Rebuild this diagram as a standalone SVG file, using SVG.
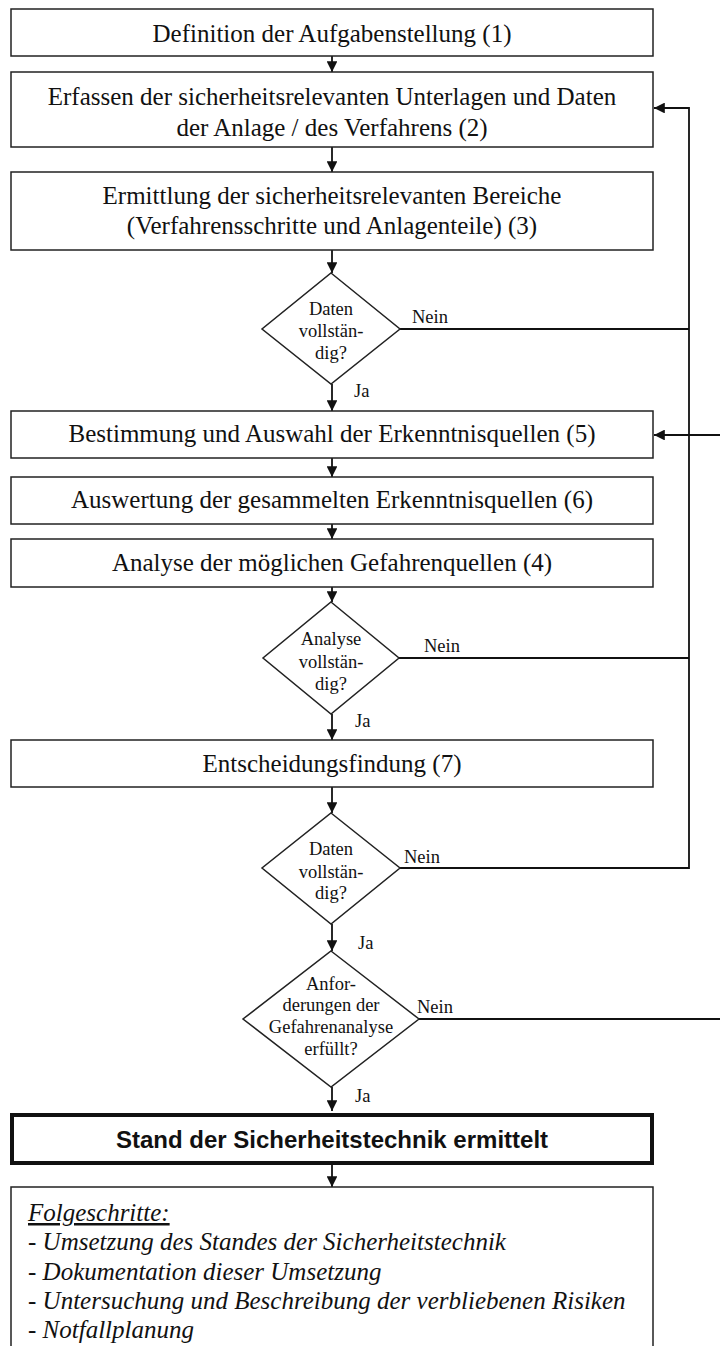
<svg xmlns="http://www.w3.org/2000/svg" width="720" height="1346" viewBox="0 0 720 1346">
<style>
.box{fill:#fff;stroke:#222;stroke-width:1.5}
.bold{fill:#fff;stroke:#111;stroke-width:4}
.t{font-family:"Liberation Serif","Times New Roman",serif;font-size:25px;fill:#111;text-anchor:middle}
.d{font-family:"Liberation Serif","Times New Roman",serif;font-size:18.5px;fill:#111;text-anchor:middle}
.l{font-family:"Liberation Serif","Times New Roman",serif;font-size:18.5px;fill:#111}
.b{font-family:"Liberation Sans",Arial,sans-serif;font-size:24px;font-weight:bold;fill:#111;text-anchor:middle}
.i{font-family:"Liberation Serif","Times New Roman",serif;font-size:25px;font-style:italic;fill:#111}
.c{fill:none;stroke:#111;stroke-width:1.8}
</style>
<defs>
<marker id="ah" viewBox="0 0 10 10" refX="10" refY="5" markerWidth="6" markerHeight="6" orient="auto" markerUnits="strokeWidth">
<path d="M0,0 L10,5 L0,10 z" fill="#111"/>
</marker>
</defs>
<g id="connectors">
<line class="c" x1="332" y1="56" x2="332" y2="72" marker-end="url(#ah)"/>
<line class="c" x1="332" y1="147" x2="332" y2="172" marker-end="url(#ah)"/>
<line class="c" x1="332" y1="250" x2="332" y2="273" marker-end="url(#ah)"/>
<line class="c" x1="332" y1="384" x2="332" y2="411" marker-end="url(#ah)"/>
<line class="c" x1="332" y1="458" x2="332" y2="477" marker-end="url(#ah)"/>
<line class="c" x1="332" y1="524" x2="332" y2="539" marker-end="url(#ah)"/>
<line class="c" x1="332" y1="587" x2="332" y2="602" marker-end="url(#ah)"/>
<line class="c" x1="332" y1="714" x2="332" y2="740" marker-end="url(#ah)"/>
<line class="c" x1="332" y1="787" x2="332" y2="813" marker-end="url(#ah)"/>
<line class="c" x1="332" y1="924" x2="332" y2="951" marker-end="url(#ah)"/>
<line class="c" x1="332" y1="1087" x2="332" y2="1111" marker-end="url(#ah)"/>
<line class="c" x1="332" y1="1165" x2="332" y2="1187" marker-end="url(#ah)"/>
<line class="c" x1="400" y1="329" x2="689" y2="329"/>
<line class="c" x1="399" y1="658" x2="689" y2="658"/>
<path class="c" d="M400,868 H689 V108 H654" marker-end="url(#ah)"/>
<path class="c" d="M419,1019 H723 V435 H654" marker-end="url(#ah)"/>
<text class="l" x="412" y="323">Nein</text>
<text class="l" x="354" y="397">Ja</text>
<text class="l" x="424" y="652">Nein</text>
<text class="l" x="355" y="727">Ja</text>
<text class="l" x="404" y="863">Nein</text>
<text class="l" x="358" y="949">Ja</text>
<text class="l" x="417" y="1013">Nein</text>
<text class="l" x="355" y="1102">Ja</text>
</g>
<g id="n1"><rect class="box" x="11" y="9" width="642" height="47"/><text class="t" x="332" y="42">Definition der Aufgabenstellung (1)</text></g>
<g id="n2"><rect class="box" x="11" y="72" width="642" height="75"/><text class="t" x="332" y="105">Erfassen der sicherheitsrelevanten Unterlagen und Daten</text><text class="t" x="332" y="136">der Anlage / des Verfahrens (2)</text></g>
<g id="n3"><rect class="box" x="11" y="172" width="642" height="78"/><text class="t" x="332" y="204">Ermittlung der sicherheitsrelevanten Bereiche</text><text class="t" x="332" y="234">(Verfahrensschritte und Anlagenteile) (3)</text></g>
<g id="d1"><polygon class="box" points="331,273 400,329 331,384 262,329"/><text class="d" x="331" y="315">Daten</text><text class="d" x="331" y="337">vollstän-</text><text class="d" x="331" y="359">dig?</text></g>
<g id="n5"><rect class="box" x="11" y="411" width="642" height="47"/><text class="t" x="332" y="442">Bestimmung und Auswahl der Erkenntnisquellen (5)</text></g>
<g id="n6"><rect class="box" x="11" y="477" width="642" height="47"/><text class="t" x="332" y="508">Auswertung der gesammelten Erkenntnisquellen (6)</text></g>
<g id="n4"><rect class="box" x="11" y="539" width="642" height="48"/><text class="t" x="332" y="571">Analyse der möglichen Gefahrenquellen (4)</text></g>
<g id="d2"><polygon class="box" points="331,602 399,658 331,714 263,658"/><text class="d" x="331" y="645">Analyse</text><text class="d" x="331" y="668">vollstän-</text><text class="d" x="331" y="690">dig?</text></g>
<g id="n7"><rect class="box" x="11" y="740" width="642" height="47"/><text class="t" x="332" y="772">Entscheidungsfindung (7)</text></g>
<g id="d3"><polygon class="box" points="331,813 400,868 331,924 262,868"/><text class="d" x="331" y="855">Daten</text><text class="d" x="331" y="878">vollstän-</text><text class="d" x="331" y="899">dig?</text></g>
<g id="d4"><polygon class="box" points="331,951 419,1019 331,1087 243,1019"/><text class="d" x="331" y="990">Anfor-</text><text class="d" x="331" y="1011">derungen der</text><text class="d" x="331" y="1033">Gefahrenanalyse</text><text class="d" x="331" y="1055">erfüllt?</text></g>
<g id="n8"><rect class="bold" x="12" y="1115" width="640" height="48"/><text class="b" x="332" y="1148">Stand der Sicherheitstechnik ermittelt</text></g>
<g id="n9"><rect class="box" x="11" y="1187" width="642" height="175"/>
<text class="i" x="28" y="1221" text-decoration="underline">Folgeschritte:</text>
<text class="i" x="28" y="1250">- Umsetzung des Standes der Sicherheitstechnik</text>
<text class="i" x="28" y="1280">- Dokumentation dieser Umsetzung</text>
<text class="i" x="28" y="1309">- Untersuchung und Beschreibung der verbliebenen Risiken</text>
<text class="i" x="28" y="1338">- Notfallplanung</text>
</g>
</svg>
